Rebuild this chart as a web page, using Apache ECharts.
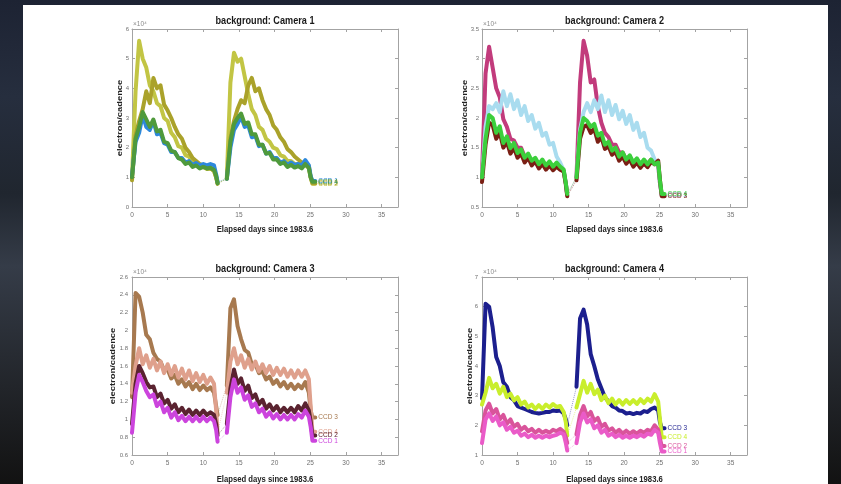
<!DOCTYPE html>
<html>
<head>
<meta charset="utf-8">
<script src="https://cdn.jsdelivr.net/npm/echarts@6/dist/echarts.min.js"></script>
<style>
  html, body { margin: 0; padding: 0; width: 841px; height: 484px; overflow: hidden;
    background: linear-gradient(180deg, #1d2333 0%, #262e3e 20%, #20262f 40%, #353c48 55%, #22252a 80%, #121212 100%); }
  #panel { position: absolute; left: 23px; top: 5px; width: 805px; height: 479px; background: #fff; }
  #chart { position: absolute; left: 0; top: 0; width: 841px; height: 484px; }
</style>
</head>
<body>
<div id="panel"></div>
<div id="chart"></div>
<script>
// Elapsed days of each sample (orbit 1, orbit 2, then the short closing stub)
const days = [0, 0.5, 1, 1.5, 2, 2.5, 3, 3.5, 4, 4.5, 5, 5.5, 6, 6.5, 7, 7.5, 8, 8.5, 9, 9.5, 10, 10.5, 11, 11.5, 11.8, 12,
  13.3, 13.8, 14.3, 14.8, 15.3, 15.8, 16.3, 16.8, 17.3, 17.8, 18.3, 18.8, 19.3, 19.8, 20.3, 20.8, 21.3, 21.8, 22.3, 22.8, 23.3, 23.8, 24.3, 24.8, 25.05, 25.3,
  25.7];
const ORBIT2_START = 26;   // index of the first sample of the second orbit

// Background in units of 10^4 electron/cadence
// Camera 1
const cam1Ccd1 = [1.05, 2.2, 2.5, 3.1, 2.7, 2.6, 2.9, 2.45, 2.5, 2.15, 2.1, 1.85, 1.85, 1.65, 1.65, 1.5, 1.55, 1.42, 1.48, 1.4, 1.45, 1.4, 1.45, 1.4, 1.1, 0.85,
  0.95, 2.0, 2.6, 2.8, 3.05, 2.7, 2.75, 2.35, 2.4, 2.05, 2.1, 1.8, 1.85, 1.65, 1.65, 1.5, 1.55, 1.42, 1.5, 1.42, 1.45, 1.4, 1.58, 1.4, 1.05, 0.88,
  0.88];
const cam1Ccd2 = [1.0, 3.9, 5.6, 5.0, 4.7, 4.1, 3.9, 3.5, 3.4, 3.0, 2.9, 2.5, 2.35, 2.05, 2.0, 1.75, 1.7, 1.5, 1.5, 1.35, 1.35, 1.28, 1.3, 1.22, 1.0, 0.8,
  1.0, 4.2, 5.2, 4.9, 5.0, 4.4, 3.8, 3.3, 3.1, 2.7, 2.6, 2.3, 2.2, 2.0, 1.95, 1.75, 1.7, 1.55, 1.55, 1.45, 1.45, 1.38, 1.42, 1.3, 1.0, 0.78,
  0.78];
const cam1Ccd3 = [0.9, 2.4, 2.9, 3.3, 3.9, 3.5, 4.35, 4.0, 4.1, 3.45, 3.25, 3.0, 2.7, 2.45, 2.3, 2.0, 1.85, 1.65, 1.55, 1.45, 1.4, 1.3, 1.3, 1.22, 1.0, 0.78,
  0.95, 2.3, 2.9, 3.3, 3.6, 3.5, 4.1, 4.35, 3.9, 4.0, 3.6, 3.3, 3.1, 2.75, 2.6, 2.35, 2.2, 1.95, 1.85, 1.7, 1.6, 1.5, 1.5, 1.38, 1.0, 0.8,
  0.8];
const cam1Ccd4 = [1.0, 2.3, 2.7, 3.2, 2.95, 2.7, 2.95, 2.55, 2.6, 2.2, 2.15, 1.9, 1.85, 1.65, 1.6, 1.45, 1.5, 1.35, 1.4, 1.3, 1.35, 1.3, 1.32, 1.25, 1.05, 0.8,
  0.95, 2.2, 2.8, 3.0, 3.15, 2.8, 2.85, 2.45, 2.45, 2.1, 2.1, 1.8, 1.82, 1.6, 1.6, 1.45, 1.5, 1.35, 1.42, 1.33, 1.38, 1.3, 1.45, 1.32, 1.0, 0.85,
  0.85];
// Camera 2
const cam2Ccd1 = [1.05, 2.75, 3.2, 2.85, 2.5, 2.35, 1.98, 1.85, 1.65, 1.62, 1.5, 1.5, 1.35, 1.37, 1.24, 1.28, 1.17, 1.24, 1.15, 1.22, 1.15, 1.2, 1.14, 1.1, 0.9, 0.7,
  1.0, 2.6, 3.3, 3.05, 2.6, 2.65, 2.2, 1.92, 1.75, 1.68, 1.55, 1.55, 1.42, 1.42, 1.3, 1.33, 1.25, 1.3, 1.22, 1.28, 1.22, 1.3, 1.28, 1.2, 0.9, 0.7,
  0.7];
const cam2Ccd2 = [1.0, 1.85, 2.2, 2.15, 2.25, 2.1, 2.45, 2.2, 2.4, 2.15, 2.3, 2.05, 2.2, 1.95, 2.05, 1.82, 1.92, 1.7, 1.75, 1.55, 1.58, 1.35, 1.25, 1.12, 0.9, 0.7,
  1.0, 1.8, 2.1, 2.25, 2.1, 2.3, 2.15, 2.38, 2.1, 2.3, 2.05, 2.22, 1.98, 2.12, 1.9, 2.05, 1.8, 1.92, 1.68, 1.75, 1.5, 1.45, 1.3, 1.2, 0.9, 0.7,
  0.7];
const cam2Ccd3 = [0.92, 1.55, 1.92, 1.88, 1.65, 1.76, 1.5, 1.6, 1.4, 1.5, 1.33, 1.4, 1.25, 1.33, 1.2, 1.27, 1.15, 1.23, 1.13, 1.2, 1.12, 1.18, 1.13, 1.1, 0.88, 0.68,
  0.95, 1.65, 1.85, 1.88, 1.75, 1.82, 1.6, 1.68, 1.48, 1.53, 1.38, 1.43, 1.28, 1.35, 1.23, 1.3, 1.18, 1.25, 1.16, 1.24, 1.17, 1.26, 1.22, 1.28, 0.95, 0.68,
  0.68];
const cam2Ccd4 = [1.0, 1.65, 2.05, 2.0, 1.75, 1.86, 1.58, 1.69, 1.49, 1.58, 1.41, 1.47, 1.33, 1.4, 1.28, 1.33, 1.22, 1.3, 1.2, 1.27, 1.18, 1.25, 1.18, 1.13, 0.9, 0.72,
  1.0, 1.75, 2.0, 1.95, 1.85, 1.9, 1.7, 1.75, 1.55, 1.6, 1.45, 1.5, 1.35, 1.42, 1.3, 1.37, 1.25, 1.32, 1.22, 1.3, 1.22, 1.3, 1.22, 1.25, 0.95, 0.72,
  0.72];
// Camera 3
const cam3Ccd1 = [0.85, 1.3, 1.5, 1.42, 1.32, 1.25, 1.28, 1.15, 1.2, 1.08, 1.13, 1.02, 1.08, 0.99, 1.04, 0.98, 1.03, 0.98, 1.03, 0.98, 1.03, 0.98, 1.02, 0.98, 0.88, 0.75,
  0.85, 1.25, 1.45, 1.3, 1.36, 1.22, 1.27, 1.14, 1.18, 1.08, 1.12, 1.03, 1.08, 1.01, 1.06, 1.0, 1.05, 1.0, 1.05, 1.0, 1.06, 1.02, 1.1, 1.03, 0.92, 0.76,
  0.76];
const cam3Ccd2 = [0.95, 1.4, 1.6, 1.52, 1.42, 1.36, 1.37, 1.25, 1.29, 1.18, 1.22, 1.12, 1.17, 1.08, 1.13, 1.06, 1.11, 1.05, 1.1, 1.05, 1.1, 1.05, 1.08, 1.05, 0.95, 0.82,
  0.95, 1.35, 1.56, 1.4, 1.46, 1.32, 1.38, 1.24, 1.28, 1.17, 1.22, 1.12, 1.17, 1.1, 1.15, 1.08, 1.13, 1.08, 1.13, 1.08, 1.15, 1.1, 1.18, 1.1, 0.98, 0.82,
  0.82];
const cam3Ccd3 = [1.25, 2.42, 2.38, 2.2, 1.95, 1.9, 1.75, 1.68, 1.65, 1.55, 1.56, 1.46, 1.5, 1.4, 1.45, 1.37, 1.42, 1.34, 1.4, 1.33, 1.38, 1.33, 1.36, 1.3, 1.15, 1.05,
  1.38, 2.25, 2.35, 2.05, 1.9, 1.78, 1.75, 1.62, 1.62, 1.52, 1.54, 1.45, 1.48, 1.4, 1.44, 1.37, 1.42, 1.35, 1.4, 1.34, 1.39, 1.35, 1.42, 1.3, 1.1, 1.02,
  1.02];
const cam3Ccd4 = [1.3, 1.6, 1.8, 1.62, 1.72, 1.58, 1.68, 1.55, 1.65, 1.52, 1.62, 1.5, 1.6, 1.47, 1.57, 1.45, 1.55, 1.43, 1.52, 1.42, 1.5, 1.4, 1.47, 1.4, 1.1, 0.85,
  1.3, 1.65, 1.8, 1.62, 1.72, 1.58, 1.68, 1.56, 1.65, 1.54, 1.62, 1.52, 1.6, 1.5, 1.58, 1.5, 1.57, 1.48, 1.55, 1.47, 1.55, 1.48, 1.55, 1.45, 1.15, 0.86,
  0.86];
// Camera 4
const cam4Ccd1 = [1.4, 2.2, 2.4, 2.15, 2.3, 2.0, 2.1, 1.85, 1.95, 1.75, 1.82, 1.65, 1.72, 1.6, 1.68, 1.58, 1.65, 1.58, 1.65, 1.6, 1.65, 1.68, 1.75, 1.7, 1.4, 1.15,
  1.4, 2.1, 2.4, 2.1, 2.2, 1.9, 2.0, 1.75, 1.85, 1.65, 1.72, 1.6, 1.68, 1.58, 1.65, 1.58, 1.65, 1.6, 1.68, 1.62, 1.72, 1.68, 1.85, 1.75, 1.4, 1.12,
  1.12];
const cam4Ccd2 = [1.8, 2.5, 2.73, 2.4, 2.55, 2.2, 2.35, 2.05, 2.2, 1.95, 2.05, 1.85, 1.95, 1.8, 1.88, 1.75, 1.85, 1.75, 1.82, 1.75, 1.85, 1.8, 1.88, 1.78, 1.6, 1.4,
  1.7, 2.35, 2.65, 2.3, 2.45, 2.15, 2.25, 1.95, 2.05, 1.82, 1.9, 1.75, 1.85, 1.72, 1.82, 1.72, 1.8, 1.72, 1.82, 1.75, 1.85, 1.8, 2.0, 1.85, 1.55, 1.3,
  1.3];
const cam4Ccd3 = [2.9, 6.1, 6.0, 5.3, 4.3, 4.0, 3.45, 3.3, 2.95, 2.85, 2.65, 2.6, 2.55, 2.5, 2.45, 2.42, 2.4, 2.42, 2.45, 2.45, 2.5, 2.48, 2.5, 2.4, 2.2, 2.0,
  3.3, 5.6, 5.9, 5.4, 4.4, 4.0, 3.55, 3.25, 2.95, 2.8, 2.65, 2.6, 2.5, 2.48, 2.4, 2.42, 2.38, 2.42, 2.4, 2.48, 2.45, 2.55, 2.6, 2.5, 2.1, 1.9,
  1.9];
const cam4Ccd4 = [2.7, 3.1, 3.6, 3.25, 3.4, 3.07, 3.3, 2.95, 3.07, 2.84, 2.95, 2.7, 2.8, 2.6, 2.7, 2.55, 2.68, 2.55, 2.7, 2.6, 2.72, 2.62, 2.65, 2.45, 2.1, 1.65,
  2.6, 3.05, 3.5, 3.1, 3.4, 3.05, 3.2, 2.85, 3.0, 2.75, 2.9, 2.7, 2.85, 2.7, 2.85, 2.72, 2.85, 2.72, 2.88, 2.75, 2.9, 2.8, 3.05, 2.8, 2.2, 1.6,
  1.6];

// x tick labels and y-axis ranges (min, max, step) per camera
const xTicks = [0, 5, 10, 15, 20, 25, 30, 35];
const X_MAX = 37.3;
const yRange1 = [0, 6, 1];
const yRange2 = [0.5, 3.5, 0.5];
const yRange3 = [0.6, 2.6, 0.2];
const yRange4 = [1, 7, 1];

const SANS = '"Liberation Sans", Arial, sans-serif';

const panels = [
  { title: 'background: Camera 1', box: { left: 132, top: 29, width: 266, height: 178 }, y: yRange1,
    yLabelMargin: 3, yNameX: 120, xNameDy: 22,
    lines: [
      { label: 'CCD 2', vals: cam1Ccd2, color: '#c2c544' },
      { label: 'CCD 3', vals: cam1Ccd3, color: '#aaa22a' },
      { label: 'CCD 1', vals: cam1Ccd1, color: '#2d88dc' },
      { label: 'CCD 4', vals: cam1Ccd4, color: '#4f9a3c' } ] },
  { title: 'background: Camera 2', box: { left: 482, top: 29, width: 265, height: 178 }, y: yRange2,
    yLabelMargin: 3, yNameX: 465, xNameDy: 22,
    lines: [
      { label: 'CCD 1', vals: cam2Ccd1, color: '#c23b7c' },
      { label: 'CCD 2', vals: cam2Ccd2, color: '#a9dcef' },
      { label: 'CCD 3', vals: cam2Ccd3, color: '#7a1f14' },
      { label: 'CCD 4', vals: cam2Ccd4, color: '#3ccf3c' } ] },
  { title: 'background: Camera 3', box: { left: 132, top: 277, width: 266, height: 178 }, y: yRange3,
    yLabelMargin: 4, yNameX: 112.5, xNameDy: 24,
    lines: [
      { label: 'CCD 3', vals: cam3Ccd3, color: '#a7794f' },
      { label: 'CCD 4', vals: cam3Ccd4, color: '#dfa08c' },
      { label: 'CCD 2', vals: cam3Ccd2, color: '#5a2330' },
      { label: 'CCD 1', vals: cam3Ccd1, color: '#cc44dd' } ] },
  { title: 'background: Camera 4', box: { left: 482, top: 277, width: 265, height: 178 }, y: yRange4,
    yLabelMargin: 4, yNameX: 470, xNameDy: 24,
    lines: [
      { label: 'CCD 3', vals: cam4Ccd3, color: '#1c1f8e' },
      { label: 'CCD 4', vals: cam4Ccd4, color: '#c9ee2c' },
      { label: 'CCD 2', vals: cam4Ccd2, color: '#d9549b' },
      { label: 'CCD 1', vals: cam4Ccd1, color: '#ea5bc8' } ] }
];

// One line per CCD, broken between the two orbits
function track(vals) {
  const pts = [];
  days.forEach((d, i) => {
    if (i === ORBIT2_START) pts.push([(days[i - 1] + d) / 2, '-']);
    pts.push([d, vals[i]]);
  });
  return pts;
}

const AXIS_COLOR = '#a3a3a3';
const TICK_TEXT = '#707070';
const option = { animation: false, grid: [], xAxis: [], yAxis: [], series: [], graphic: [] };

panels.forEach((p, i) => {
  option.grid.push(Object.assign({}, p.box));
  const xCommon = { gridIndex: i, type: 'value', min: 0, max: X_MAX, interval: xTicks[1] - xTicks[0],
    splitLine: { show: false },
    axisLine: { onZero: false, lineStyle: { color: AXIS_COLOR, width: 1 } },
    axisTick: { inside: true, length: 3, lineStyle: { color: AXIS_COLOR } } };
  option.xAxis.push(Object.assign({}, xCommon, { position: 'bottom',
    axisLabel: { margin: 5, fontSize: 6.5, fontFamily: SANS, color: TICK_TEXT, showMaxLabel: false,
      formatter: v => (xTicks.indexOf(v) >= 0 ? String(v) : '') } }));
  option.xAxis.push(Object.assign({}, xCommon, { position: 'top', axisLabel: { show: false } }));

  const yCommon = { gridIndex: i, type: 'value', min: p.y[0], max: p.y[1], interval: p.y[2],
    splitLine: { show: false },
    axisLine: { onZero: false, lineStyle: { color: AXIS_COLOR, width: 1 } },
    axisTick: { inside: true, length: 3, lineStyle: { color: AXIS_COLOR } } };
  option.yAxis.push(Object.assign({}, yCommon, { position: 'left',
    axisLabel: { margin: p.yLabelMargin, fontSize: 6, fontFamily: SANS, color: TICK_TEXT } }));
  option.yAxis.push(Object.assign({}, yCommon, { position: 'right', axisLabel: { show: false } }));

  const xi = 2 * i, yi = 2 * i;
  p.lines.forEach(l => {
    // faint dotted bridge across the data gap
    option.series.push({ type: 'line', xAxisIndex: xi, yAxisIndex: yi, silent: true, showSymbol: false, z: 1,
      data: [[days[ORBIT2_START - 1], l.vals[ORBIT2_START - 1]], [days[ORBIT2_START], l.vals[ORBIT2_START]]],
      lineStyle: { color: l.color, width: 1, type: 'dotted', opacity: 0.45 } });
  });
  p.lines.forEach((l, k) => {
    option.series.push({ type: 'line', name: l.label, xAxisIndex: xi, yAxisIndex: yi, silent: true,
      showSymbol: false, z: 2 + k, data: track(l.vals),
      lineStyle: { color: l.color, width: 4, join: 'round', cap: 'round' },
      itemStyle: { color: l.color },
      endLabel: { show: true, formatter: l.label, color: l.color, fontSize: 6.5, fontFamily: SANS, distance: 3 } });
  });

  const cx = p.box.left + p.box.width / 2;
  // panel title, set in a condensed bold face
  option.graphic.push({ type: 'text', x: cx, y: p.box.top - 8.5, scaleX: 0.83,
    style: { text: p.title, textAlign: 'center', textVerticalAlign: 'middle',
      font: 'bold 11px ' + SANS, fill: '#1a1a1a' } });
  // x-axis title under each panel
  option.graphic.push({ type: 'text', x: cx, y: p.box.top + p.box.height + p.xNameDy, scaleX: 0.81,
    style: { text: 'Elapsed days since 1983.6', textAlign: 'center', textVerticalAlign: 'middle',
      font: 'bold 9.5px ' + SANS, fill: '#222' } });
  // y-axis title, reading upward
  option.graphic.push({ type: 'text', x: p.yNameX, y: p.box.top + p.box.height / 2,
    rotation: Math.PI / 2, scaleY: 0.86,
    style: { text: 'electron/cadence', textAlign: 'center', textVerticalAlign: 'middle',
      font: 'bold 9.4px ' + SANS, fill: '#222' } });
  // axis exponent
  option.graphic.push({ type: 'text', x: p.box.left + 1, y: p.box.top - 5,
    style: { text: '×10⁴', textAlign: 'left', textVerticalAlign: 'middle',
      font: '6.5px ' + SANS, fill: '#8a8a8a' } });
});

const chart = echarts.init(document.getElementById('chart'), null, { renderer: 'canvas' });
chart.setOption(option);
</script>
</body>
</html>
